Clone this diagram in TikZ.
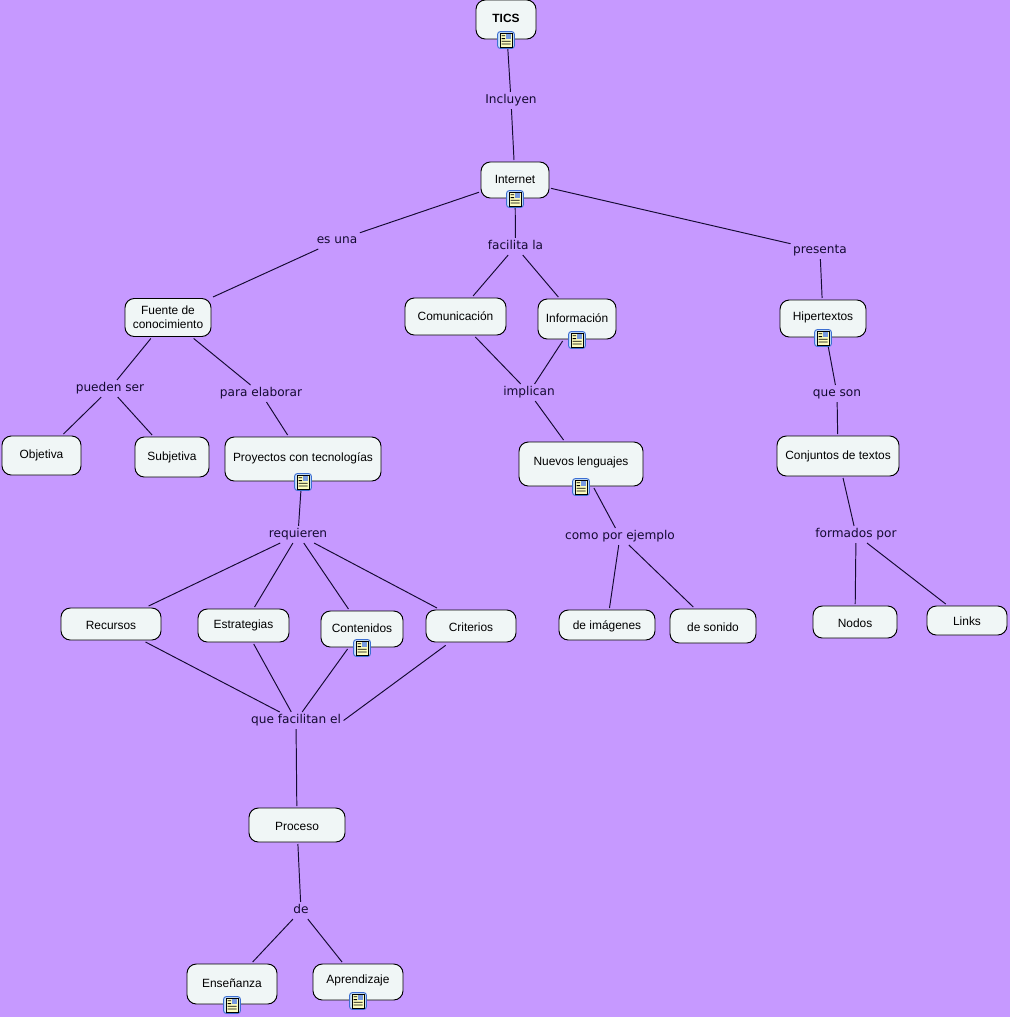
\documentclass[tikz,border=0pt]{standalone}
\usepackage{fontspec}
\setmainfont{Liberation Sans}
\newfontfamily\lblfont{DejaVu Sans}
\definecolor{bgc}{RGB}{198,153,255}
\definecolor{boxc}{RGB}{240,246,246}
\definecolor{linec}{RGB}{20,10,50}
\definecolor{iconb}{RGB}{60,110,210}
\definecolor{iconf}{RGB}{205,228,250}
\definecolor{papery}{RGB}{252,252,190}
\newdimen\unitpx \unitpx=.75pt
\tikzset{
  x=.75pt,y=-.75pt,
  cbox/.style={draw=black,fill=boxc,line width=.7pt,rounded corners=7pt,inner sep=0pt,outer sep=1.5pt,align=center,font=\fontsize{8.95pt}{10.6pt}\selectfont},
  clabel/.style={inner sep=0pt,outer xsep=2pt,outer ysep=0pt,text height=8.5pt,text depth=4.3pt,font=\lblfont\fontsize{9.1pt}{10pt}\selectfont,text=linec},
  conn/.style={draw=linec,line width=.72pt},
  iconbox/.style={draw=iconb,fill=iconf,line width=.7pt,rounded corners=2pt,minimum size=12.6pt,inner sep=0pt,outer sep=0pt},
}
\newcommand{\bx}[7]{\node[cbox,minimum width={(#4-#2)*.75pt},minimum height={(#5-#3)*.75pt}] (#1) at ({(#2+#4)/2},{(#3+#5)/2}) {\raisebox{\dimexpr #6\unitpx-4.4\unitpx\relax}[0pt][0pt]{#7}};}
\newcommand{\lb}[4]{\node[clabel] (#1) at (#2,#3+1.5) {#4};}
\newcommand{\icn}[3]{%
  \node[iconbox] (#1) at (#2,#3) {};
  \fill[papery,draw=black,line width=.45pt] (#2-6,#3-7) rectangle (#2+6,#3+7);
  \fill[black] (#2-4.5,#3-4.6) rectangle (#2-.8,#3-3.8) (#2-4.5,#3-1.8) rectangle (#2-.8,#3-1) (#2-4.5,#3+.8) rectangle (#2+4.5,#3+1.6) (#2-4.5,#3+3.6) rectangle (#2+4.5,#3+4.4);
  \fill[iconb!70] (#2,#3-6) rectangle (#2+5,#3-1.4);
}
\begin{document}
\begin{tikzpicture}
\useasboundingbox (0,0) rectangle (1010,1017);
\fill[bgc] (0,0) rectangle (1010,1017);
% concept boxes
\bx{tics}{476}{0}{536}{39}{1.5}{\textbf{TICS}}
\bx{internet}{481}{162}{549}{198}{1}{Internet}
\node[cbox,minimum width={86*.75pt},minimum height={38*.75pt}] (fuente) at (168,317.5) {Fuente de\\conocimiento};
\bx{comun}{405}{298}{506}{335}{.5}{Comunicación}
\bx{info}{538}{299}{616}{339}{1}{Información}
\bx{hiper}{780}{300}{866}{337}{2.5}{Hipertextos}
\bx{obj}{2}{436}{81}{475}{1}{Objetiva}
\bx{subj}{135}{437}{209}{477}{1}{Subjetiva}
\bx{proy}{225}{437}{381}{481}{2}{Proyectos con tecnologías}
\bx{nuevos}{519}{442}{643}{486}{3}{Nuevos lenguajes}
\bx{conj}{777}{436}{899}{476}{1}{Conjuntos de textos}
\bx{recursos}{61}{608}{161}{640}{-1}{Recursos}
\bx{estr}{198}{609}{289}{642}{1.5}{Estrategias}
\bx{cont}{321}{611}{403}{647}{1}{Contenidos}
\bx{crit}{426}{610}{516}{642}{-1}{Criterios}
\bx{imag}{559}{610}{655}{640}{0}{de imágenes}
\bx{sonido}{670}{609}{756}{643}{-1}{de sonido}
\bx{nodos}{813}{606}{897}{638}{-1}{Nodos}
\bx{links}{927}{606}{1007}{635}{-.5}{Links}
\bx{proceso}{249}{808}{345}{842}{-1}{Proceso}
\bx{ens}{187}{964}{277}{1004}{1}{Enseñanza}
\bx{apr}{313}{964}{403}{1000}{3}{Aprendizaje}
% linking phrases
\lb{incl}{511}{99}{Incluyen}
\lb{esuna}{337}{239}{es una}
\lb{facil}{515.5}{245}{facilita la}
\lb{pres}{820}{249}{presenta}
\lb{pueden}{110}{387}{pueden ser}
\lb{para}{261}{392}{para elaborar}
\lb{impl}{529}{391}{implican}
\lb{queson}{837}{392}{que son}
\lb{req}{298}{533}{requieren}
\lb{como}{620}{535}{como por ejemplo}
\lb{form}{856}{533}{formados por}
\lb{quef}{296}{719}{que facilitan el}
\lb{dee}{301}{909}{de}
% connectors
\foreach \a/\b in {tics/incl,incl/internet,internet/esuna,internet/facil,internet/pres,esuna/fuente,facil/comun,facil/info,pres/hiper,fuente/pueden,fuente/para,pueden/obj,pueden/subj,para/proy,comun/impl,info/impl,impl/nuevos,hiper/queson,queson/conj,proy/req,req/recursos,req/estr,req/cont,req/crit,nuevos/como,como/imag,como/sonido,conj/form,form/nodos,form/links,recursos/quef,estr/quef,cont/quef,quef/proceso,proceso/dee,dee/ens,dee/apr}
  \draw[conn] (\a) -- (\b);
\draw[conn] ([xshift=-19pt,yshift=-1pt]crit.south) -- (quef.east);
% resource icons
\icn{i1}{506}{40}
\icn{i2}{515}{199}
\icn{i3}{577}{340}
\icn{i4}{823}{338}
\icn{i5}{303}{482}
\icn{i6}{581}{487}
\icn{i7}{362}{648}
\icn{i8}{232}{1005}
\icn{i9}{358}{1001}
\end{tikzpicture}
\end{document}
